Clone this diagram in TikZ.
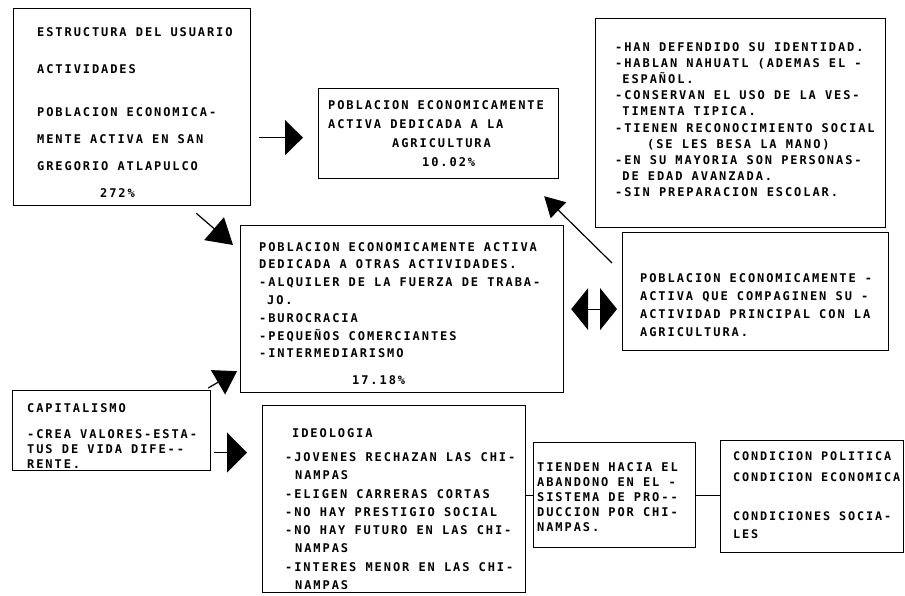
\documentclass[tikz,border=0pt]{standalone}
\usepackage{fontspec}
\setmonofont{DejaVu Sans Mono}[LetterSpace=16]
\usetikzlibrary{arrows.meta,positioning,calc}

\tikzset{
  box/.style={draw, line width=1.2pt, anchor=north west, inner sep=0pt},
  txt/.style={font=\ttfamily\bfseries\fontsize{12}{#1}\selectfont, align=left, inner sep=0pt, anchor=north west},
  txt/.default=18pt,
  flecha/.style 2 args={line width=1.2pt, -{Triangle[length=#1,width=#2]}},
  linea/.style={line width=1.2pt}
}

\begin{document}
\begin{tikzpicture}[x=1pt, y=-1pt]
	\fill[white] (0,0) rectangle (905,596);
	\useasboundingbox (0,0) rectangle (905,596);
	% cajas
	\node [box, minimum width=237pt, minimum height=197pt] (estr) at (13,8) {};
	\node [box, minimum width=240pt, minimum height=90pt] (agri) at (318,88) {};
	\node [box, minimum width=290pt, minimum height=209pt] (iden) at (595,18) {};
	\node [box, minimum width=323pt, minimum height=167pt] (otras) at (240,225) {};
	\node [box, minimum width=266pt, minimum height=118pt] (compa) at (622,232) {};
	\node [box, minimum width=198pt, minimum height=80pt] (capi) at (12,390) {};
	\node [box, minimum width=263pt, minimum height=187pt] (ideo) at (262,405) {};
	\node [box, minimum width=162pt, minimum height=105pt] (tien) at (533,442) {};
	\node [box, minimum width=183pt, minimum height=112pt] (cond) at (720,440) {};
	% textos
	\node [txt=27pt] (estrT) at (37,27) {ESTRUCTURA DEL USUARIO\\[10pt] ACTIVIDADES\\[16pt] POBLACION ECONOMICA-\\ MENTE ACTIVA EN SAN\\ GREGORIO ATLAPULCO\\ \hspace*{63pt}272\%};
	\node [txt=19pt] (agriT) at (328,100) {POBLACION ECONOMICAMENTE\\ ACTIVA DEDICADA A LA\\ \hspace*{64pt}AGRICULTURA\\ \hspace*{94pt}10.02\%};
	\node [txt=16.2pt] (idenT) at (615,42) {-HAN DEFENDIDO SU IDENTIDAD.\\ -HABLAN NAHUATL (ADEMAS EL -\\ \phantom{-}ESPAÑOL.\\ -CONSERVAN EL USO DE LA VES-\\ \phantom{-}TIMENTA TIPICA.\\ -TIENEN RECONOCIMIENTO SOCIAL\\ \hspace*{32pt}(SE LES BESA LA MANO)\\ -EN SU MAYORIA SON PERSONAS-\\ \phantom{-}DE EDAD AVANZADA.\\ -SIN PREPARACION ESCOLAR.};
	\node [txt=17.8pt] (otrasT) at (259,242) {POBLACION ECONOMICAMENTE ACTIVA\\ DEDICADA A OTRAS ACTIVIDADES.\\ -ALQUILER DE LA FUERZA DE TRABA-\\ \hspace*{8pt}JO.\\ -BUROCRACIA\\ -PEQUEÑOS COMERCIANTES\\ -INTERMEDIARISMO\\[9pt] \hspace*{93pt}17.18\%};
	\node [txt=18pt] (compaT) at (640,273) {POBLACION ECONOMICAMENTE -\\ ACTIVA QUE COMPAGINEN SU -\\ ACTIVIDAD PRINCIPAL CON LA\\ AGRICULTURA.};
	\node [txt=15pt] (capiT) at (27,403) {CAPITALISMO\\[11pt] -CREA VALORES-ESTA-\\ TUS DE VIDA DIFE--\\ RENTE.};
	\node [txt=18.3pt] (ideoT) at (285,428) {\hspace*{7pt}IDEOLOGIA\\[6pt] -JOVENES RECHAZAN LAS CHI-\\ \hspace*{10pt}NAMPAS\\ -ELIGEN CARRERAS CORTAS\\ -NO HAY PRESTIGIO SOCIAL\\ -NO HAY FUTURO EN LAS CHI-\\ \hspace*{10pt}NAMPAS\\ -INTERES MENOR EN LAS CHI-\\ \hspace*{10pt}NAMPAS};
	\node [txt=15pt] (tienT) at (537,462) {TIENDEN HACIA EL\\ ABANDONO EN EL -\\ SISTEMA DE PRO--\\ DUCCION POR CHI-\\ NAMPAS.};
	\node [txt=18pt, font=\ttfamily\bfseries\fontsize{11.8}{18pt}\selectfont] (condT) at (733,452) {CONDICION POLITICA\\[3pt] CONDICION ECONOMICA\\[21pt] CONDICIONES SOCIA-\\ LES};
	% flechas
	\coordinate (a1) at ($(estr.east |- agri.west)+(8,4)$);
	\coordinate (c1) at ($(capi.east)+(3,22)$);
	\draw[flecha={18pt}{35pt}, shorten >=15pt] (a1) -- (a1 -| agri.west);
	\draw[flecha={25pt}{30pt}] ($(estr.south east)+(-55,7)$) -- ($(otras.north west)+(-7,20)$);
	\draw[flecha={20pt}{22pt}] ($(compa.north west)+(-10,31)$) -- ($(agri.south east)+(-15,17)$);
	\draw[linea, {Triangle[length=17pt,width=42pt]}-{Triangle[length=17pt,width=42pt]}, shorten <=7pt, shorten >=5pt] (otras.east) -- (otras.east -| compa.west);
	\draw[flecha={22pt}{28pt}] ($(capi.north east)+(-3,-2)$) -- ($(otras.south west)+(-3,-22)$);
	\draw[flecha={20pt}{40pt}, shorten >=15pt] (c1) -- (c1 -| ideo.west);
	\draw[linea] (tien.west) -- (tien.west -| ideo.east);
	\draw[linea] (tien.east) -- (tien.east -| cond.west);
\end{tikzpicture}
\end{document}
